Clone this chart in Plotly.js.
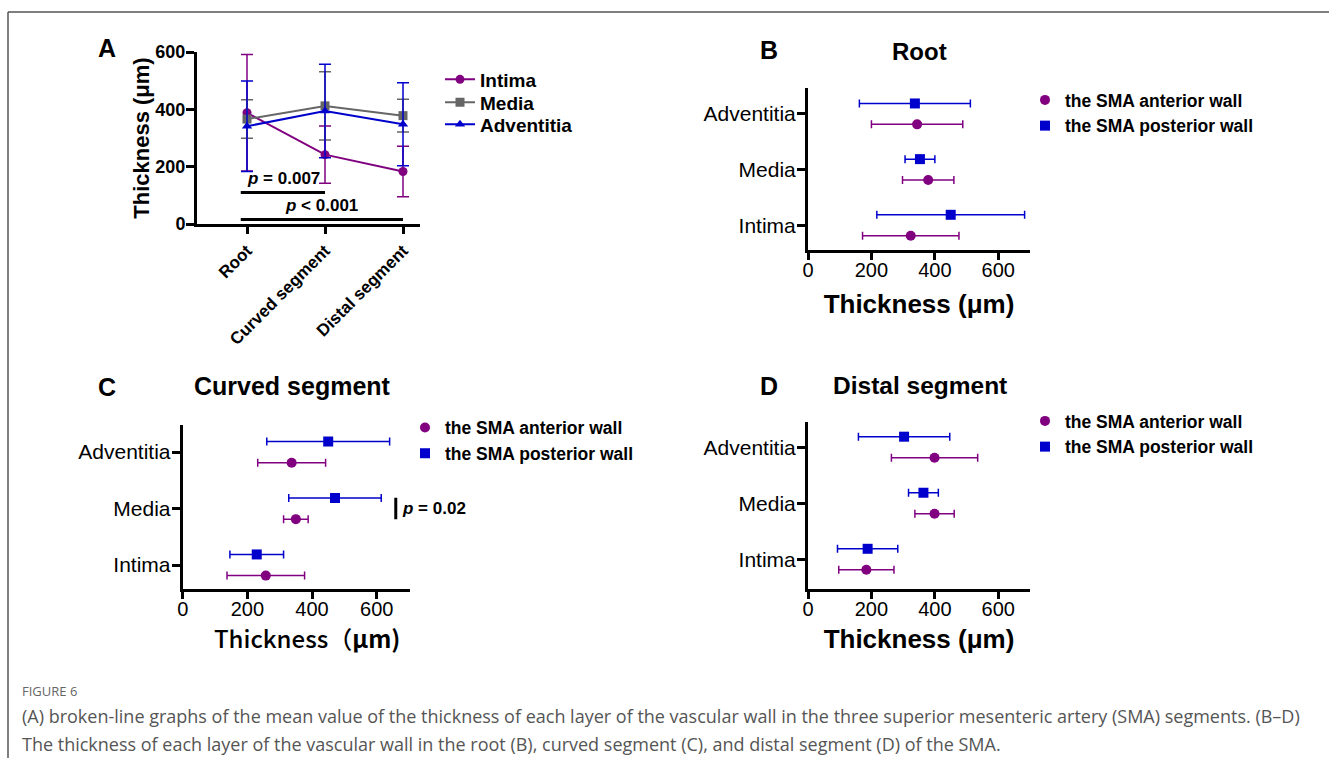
<!DOCTYPE html>
<html><head><meta charset="utf-8">
<script src="https://cdn.plot.ly/plotly-3.0.1.min.js"></script>
<style>html,body{margin:0;padding:0;background:#fff;} #chart{width:1329px;height:758px;}</style>
</head><body><div id="chart"></div>
<script>
// ---------- Panel A data ----------
const segments = ['Root', 'Curved segment', 'Distal segment'];
const intimaMean = [388, 242, 183];
const intimaSD = [203, 100, 88];
const mediaMean = [366, 412, 378];
const mediaSD = [67, 119, 57];
const adventitiaMean = [341, 394, 348];
const adventitiaSD = [158, 163, 145];
const pLabelA1 = '<i>p</i> = 0.007';
const pLabelA2 = '<i>p</i> < 0.001';

// ---------- Panels B-D data (layers bottom -> top) ----------
const layers = ['Intima', 'Media', 'Adventitia'];
const seriesNames = ['the SMA anterior wall', 'the SMA posterior wall'];
const rootAnteriorMean = [324, 379, 344];
const rootAnteriorSD = [152, 81, 144];
const rootPosteriorMean = [450, 353, 337];
const rootPosteriorSD = [233, 47, 175];
const curvedAnteriorMean = [257, 350, 337];
const curvedAnteriorSD = [120, 38, 105];
const curvedPosteriorMean = [229, 471, 450];
const curvedPosteriorSD = [83, 143, 190];
const distalAnteriorMean = [184, 399, 399];
const distalAnteriorSD = [87, 62, 136];
const distalPosteriorMean = [188, 364, 303];
const distalPosteriorSD = [95, 47, 144];
const pLabelC = '<i>p</i> = 0.02';
const thicknessTicks = [0, 200, 400, 600];

const captionHead = 'FIGURE 6';
const captionLine1 = '(A) broken-line graphs of the mean value of the thickness of each layer of the vascular wall in the three superior mesenteric artery (SMA) segments. (B–D)';
const captionLine2 = 'The thickness of each layer of the vascular wall in the root (B), curved segment (C), and distal segment (D) of the SMA.';

// ---------- styling ----------
const W = 1329, H = 758;
const px = v => v / W;
const py = v => 1 - v / H;
const F = 'Liberation Sans, Arial, sans-serif';
const PURPLE = '#800080', GRAY = '#666666', BLUE = '#0000CC';

function aTrace(name, mean, sd, color, symbol, lg) {
  return {
    type: 'scatter', mode: 'lines+markers', name: name,
    x: segments, y: mean, xaxis: 'x', yaxis: 'y', legend: lg,
    offsetgroup: 'A', orientation: 'v',
    line: {color: color, width: 2},
    marker: {color: color, size: 9, symbol: symbol},
    error_y: {type: 'data', array: sd, visible: true, color: color, thickness: 1.5, width: 6},
    cliponaxis: false
  };
}
function hTrace(i, mean, sd, color, symbol, ax, lg) {
  return {
    type: 'scatter', mode: 'markers', name: seriesNames[i],
    x: mean, y: layers, orientation: 'h', offsetgroup: 'g' + i,
    xaxis: 'x' + ax, yaxis: 'y' + ax, legend: lg,
    marker: {color: color, size: 10, symbol: symbol},
    error_x: {type: 'data', array: sd, visible: true, color: color, thickness: 1.5, width: 4},
    cliponaxis: false
  };
}

const data = [
  aTrace('Intima', intimaMean, intimaSD, PURPLE, 'circle', 'legend'),
  aTrace('Media', mediaMean, mediaSD, GRAY, 'square', 'legend5'),
  aTrace('Adventitia', adventitiaMean, adventitiaSD, BLUE, 'triangle-up', 'legend6'),
  hTrace(0, rootAnteriorMean, rootAnteriorSD, PURPLE, 'circle', 2, 'legend2'),
  hTrace(1, rootPosteriorMean, rootPosteriorSD, BLUE, 'square', 2, 'legend2'),
  hTrace(0, curvedAnteriorMean, curvedAnteriorSD, PURPLE, 'circle', 3, 'legend3'),
  hTrace(1, curvedPosteriorMean, curvedPosteriorSD, BLUE, 'square', 3, 'legend3'),
  hTrace(0, distalAnteriorMean, distalAnteriorSD, PURPLE, 'circle', 4, 'legend4'),
  hTrace(1, distalPosteriorMean, distalPosteriorSD, BLUE, 'square', 4, 'legend4')
];

const axBase = {showline: true, linewidth: 3, linecolor: '#000', ticks: 'outside', tickwidth: 3,
  tickcolor: '#000', showgrid: false, zeroline: false, fixedrange: true};

function xNum(ax, domain, range, title) {
  return Object.assign({}, axBase, {domain: domain, anchor: 'y' + ax, range: range, tickvals: thicknessTicks,
    ticklen: 7, ticklabelstandoff: -7, tickfont: {family: F, size: 20, color: '#000'}, title: title});
}
function yCat(ax, domain, range) {
  return Object.assign({}, axBase, {domain: domain, anchor: 'x' + ax, type: 'category', categoryorder: 'array',
    categoryarray: layers, range: range, ticklen: 8, ticklabelstandoff: -3,
    tickfont: {family: F, size: 21, color: '#000'}});
}
function boldTitle(standoff) {
  return {text: 'Thickness (μm)', font: {family: F, size: 26, weight: 'bold', color: '#000'}, standoff: standoff};
}

function legendAt(x, y, size) {
  return {x: px(x), y: py(y), xanchor: 'left', yanchor: 'top', bgcolor: 'rgba(0,0,0,0)',
    font: {family: F, size: size, weight: 'bold', color: '#000'}, tracegroupgap: 0};
}

function ann(text, x, y, size, extra) {
  return Object.assign({text: text, xref: 'paper', yref: 'paper', x: px(x), y: py(y), showarrow: false,
    xanchor: 'center', yanchor: 'middle', font: {family: F, size: size, color: '#000', weight: 'bold'}}, extra || {});
}
const capFont = s => ({family: 'Open Sans, sans-serif', size: s, color: '#555'});

const layout = {
  width: W, height: H, autosize: false, margin: {l: 0, r: 0, t: 0, b: 0},
  paper_bgcolor: '#fff', plot_bgcolor: 'rgba(0,0,0,0)', showlegend: true,
  scattermode: 'group', scattergap: 0.25,
  xaxis: Object.assign({}, axBase, {domain: [px(197), px(420)], anchor: 'y', type: 'category',
    categoryorder: 'array', categoryarray: segments, range: [-0.641, 2.218], ticklen: 7, tickangle: -45,
    tickfont: {family: F, size: 17, weight: 'bold', color: '#000'}}),
  yaxis: Object.assign({}, axBase, {domain: [py(224), py(52)], anchor: 'x', range: [0, 600], tickvals: thicknessTicks,
    ticklen: 8, ticklabelstandoff: -3, tickfont: {family: F, size: 18, weight: 'bold', color: '#000'},
    title: {text: 'Thickness (μm)', font: {family: F, size: 22, weight: 'bold', color: '#000'}, standoff: 0}}),
  xaxis2: xNum(2, [px(808), px(1030)], [0, 700], boldTitle(15)),
  yaxis2: yCat(2, [py(250), py(88.3)], [-0.445, 2.46]),
  xaxis3: xNum(3, [px(182.7), px(410)], [0, 703],
    {text: '&nbsp;&nbsp;&nbsp;&nbsp;Thickness（<b>μm)</b>', font: {family: 'Noto Sans CJK SC, sans-serif', size: 24, weight: 500, color: '#000'}, standoff: 8}),
  yaxis3: yCat(3, [py(589.3), py(425)], [-0.43, 2.48]),
  xaxis4: xNum(4, [px(808), px(1030)], [0, 700], boldTitle(11)),
  yaxis4: yCat(4, [py(589), py(421.7)], [-0.53, 2.455]),
  legend: legendAt(440, 60.5, 19),
  legend5: legendAt(440, 83.5, 19),
  legend6: legendAt(440, 105.5, 19),
  legend2: legendAt(1025, 82, 17.5),
  legend3: legendAt(405, 409.7, 17.5),
  legend4: legendAt(1025, 403, 17.5),
  shapes: [
    {type: 'line', xref: 'paper', yref: 'paper', x0: px(8), x1: 1, y0: py(12), y1: py(12), line: {color: '#555', width: 1.5}},
    {type: 'line', xref: 'paper', yref: 'paper', x0: px(8), x1: px(8), y0: py(12), y1: 0, line: {color: '#555', width: 1.5}},
    {type: 'line', xref: 'x', yref: 'y', x0: -0.08, x1: 1.0, y0: 110, y1: 110, line: {color: '#000', width: 3}},
    {type: 'line', xref: 'x', yref: 'y', x0: -0.08, x1: 2.0, y0: 16, y1: 16, line: {color: '#000', width: 3}},
    {type: 'line', xref: 'x3', yref: 'y3', x0: 659, x1: 659, y0: 0.81, y1: 1.19, line: {color: '#000', width: 3}}
  ],
  annotations: [
    ann('A', 106.5, 48, 25), ann('B', 769, 50, 25), ann('C', 106.5, 387, 25), ann('D', 769, 386, 25),
    ann('Root', 919, 51, 24), ann('Curved segment', 292.5, 386, 25), ann('Distal segment', 920, 385, 24.5),
    {text: pLabelA1, xref: 'x', yref: 'y', x: 0.47, y: 160, showarrow: false, xanchor: 'center', yanchor: 'middle',
      font: {family: F, size: 17, weight: 'bold', color: '#000'}},
    {text: pLabelA2, xref: 'x', yref: 'y', x: 0.96, y: 64, showarrow: false, xanchor: 'center', yanchor: 'middle',
      font: {family: F, size: 17, weight: 'bold', color: '#000'}},
    {text: pLabelC, xref: 'x3', yref: 'y3', x: 672, y: 1, showarrow: false, xanchor: 'left', yanchor: 'middle',
      font: {family: F, size: 17, weight: 'bold', color: '#000'}},
    ann(captionHead, 20, 691, 13, {xanchor: 'left', font: {family: 'Open Sans, sans-serif', size: 13, color: '#666'}}),
    ann(captionLine1, 20, 716, 18, {xanchor: 'left', font: capFont(18)}),
    ann(captionLine2, 20, 744, 18, {xanchor: 'left', font: capFont(18)})
  ]
};

Plotly.newPlot('chart', data, layout, {staticPlot: true, displayModeBar: false});
</script></body></html>
